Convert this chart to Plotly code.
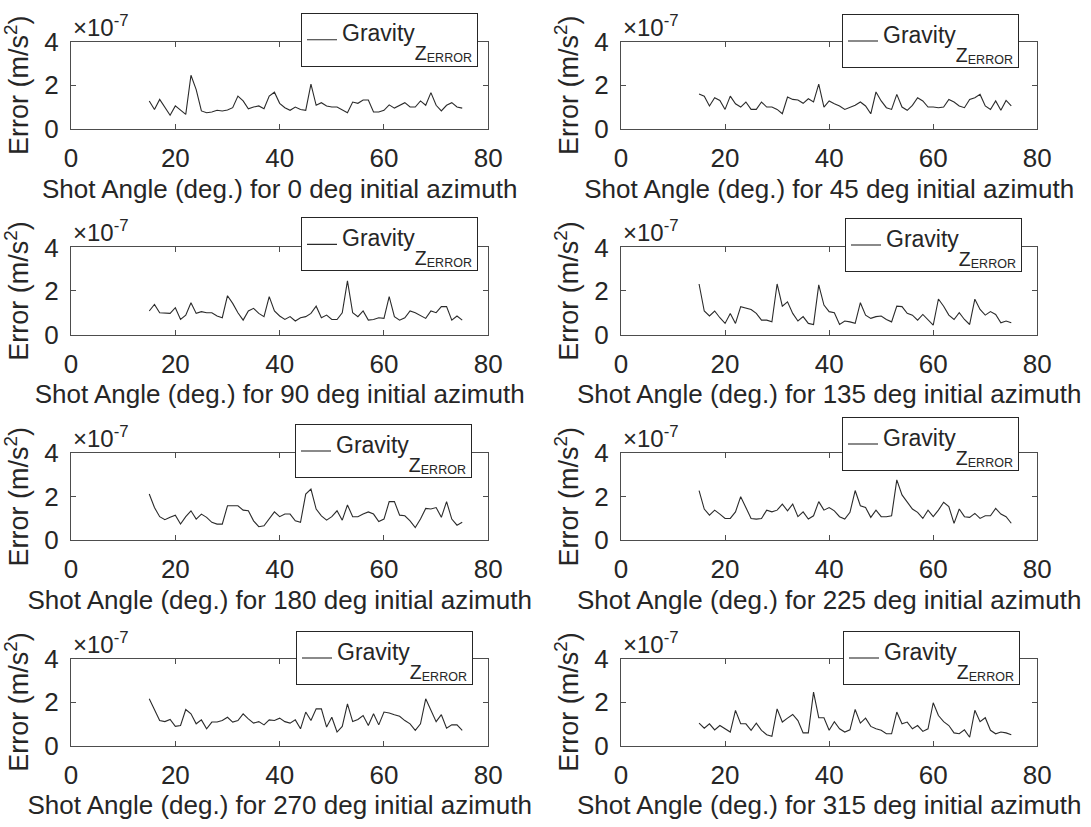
import plotly.graph_objects as go

# ---------------- data (error values in units of 1e-7 m/s^2) ----------------
shot_angle = [15, 16, 17, 18, 19, 20, 21, 22, 23, 24, 25, 26, 27, 28, 29, 30,
              31, 32, 33, 34, 35, 36, 37, 38, 39, 40, 41, 42, 43, 44, 45, 46,
              47, 48, 49, 50, 51, 52, 53, 54, 55, 56, 57, 58, 59, 60, 61, 62,
              63, 64, 65, 66, 67, 68, 69, 70, 71, 72, 73, 74, 75]

azimuths = [0, 45, 90, 135, 180, 225, 270, 315]

az0 = [1.28, 0.89, 1.35, 1.0, 0.62, 1.05, 0.85, 0.66, 2.46, 1.8,
       0.82, 0.74, 0.77, 0.85, 0.82, 0.86, 0.97, 1.5, 1.28, 0.92,
       1.0, 1.05, 0.92, 1.5, 1.68, 1.17, 0.97, 0.85, 1.0, 0.89,
       0.85, 2.05, 1.08, 1.2, 1.05, 1.0, 1.0, 0.86, 0.74, 1.23,
       1.17, 1.32, 1.32, 0.77, 0.77, 0.85, 1.1, 0.95, 1.08, 1.2,
       1.0, 1.0, 1.28, 1.08, 1.66, 1.08, 0.82, 1.08, 1.2, 1.0,
       0.95]
az45 = [1.6, 1.5, 1.05, 1.43, 1.3, 0.89, 1.5, 1.15, 1.0, 1.23,
        0.89, 0.89, 1.23, 1.0, 1.0, 0.89, 0.69, 1.46, 1.35, 1.32,
        1.17, 1.38, 1.23, 2.05, 1.0, 1.28, 1.15, 1.05, 0.89, 0.97,
        1.08, 1.23, 1.05, 0.69, 1.69, 1.28, 0.97, 0.89, 1.58, 1.0,
        0.85, 1.08, 1.43, 1.28, 1.0, 1.0, 0.97, 1.0, 1.35, 1.23,
        1.05, 0.97, 1.35, 1.43, 1.58, 1.05, 0.89, 1.28, 0.85, 1.3,
        1.05]
az90 = [1.08, 1.38, 1.0, 1.0, 0.97, 1.23, 0.69, 0.89, 1.46, 0.97,
        1.05, 1.0, 1.0, 0.85, 0.77, 1.78, 1.43, 1.0, 0.66, 1.08,
        1.2, 0.97, 0.82, 1.74, 1.08, 0.85, 0.69, 0.82, 0.62, 0.77,
        0.82, 0.97, 1.3, 0.77, 0.89, 0.69, 0.69, 1.0, 2.46, 1.0,
        0.82, 1.08, 0.66, 0.69, 0.77, 0.74, 1.74, 0.82, 0.66, 0.77,
        1.08, 1.0, 0.85, 0.74, 1.08, 1.0, 1.28, 1.28, 0.66, 0.85,
        0.66]
az135 = [2.32, 1.08, 0.85, 1.08, 0.77, 0.51, 0.97, 0.51, 1.28, 1.23,
         1.15, 0.97, 0.66, 0.66, 0.58, 2.32, 1.3, 1.5, 0.97, 0.62,
         0.82, 0.51, 0.46, 2.28, 1.35, 1.05, 1.0, 0.46, 0.62, 0.58,
         0.51, 1.46, 0.89, 0.74, 0.82, 0.85, 0.69, 0.58, 1.3, 1.28,
         0.97, 0.89, 0.66, 0.92, 0.66, 0.43, 1.63, 1.3, 0.89, 0.69,
         1.0, 0.69, 0.46, 1.62, 1.15, 0.89, 1.05, 0.92, 0.54, 0.62,
         0.54]
az180 = [2.12, 1.5, 1.08, 0.94, 1.05, 1.15, 0.74, 1.08, 1.35, 0.97,
         1.2, 1.05, 0.82, 0.74, 0.74, 1.58, 1.58, 1.58, 1.38, 1.35,
         0.89, 0.62, 0.66, 1.0, 1.3, 1.08, 1.2, 1.2, 0.89, 0.82,
         2.12, 2.35, 1.43, 1.12, 0.92, 1.08, 1.35, 0.92, 1.62, 1.08,
         1.08, 1.2, 1.3, 1.2, 0.86, 0.97, 1.77, 1.77, 1.15, 1.12,
         0.89, 0.58, 0.97, 1.46, 1.43, 1.5, 1.05, 1.77, 0.97, 0.69,
         0.82]
az225 = [2.28, 1.43, 1.15, 1.38, 1.2, 1.0, 1.0, 1.3, 2.0, 1.5,
         1.0, 0.97, 1.0, 1.38, 1.3, 1.38, 1.66, 1.35, 1.66, 1.08,
         1.3, 0.97, 1.12, 1.77, 1.38, 1.5, 1.35, 1.08, 0.97, 1.28,
         2.28, 1.58, 1.5, 1.05, 1.38, 1.08, 1.08, 1.12, 2.77, 2.08,
         1.74, 1.43, 1.28, 1.0, 1.38, 1.08, 1.38, 1.74, 1.54, 0.77,
         1.43, 1.08, 1.05, 1.23, 1.0, 1.12, 1.12, 1.46, 1.2, 1.08,
         0.78]
az270 = [2.15, 1.65, 1.15, 1.1, 1.2, 0.88, 0.92, 1.66, 1.46, 1.0,
         1.18, 0.77, 1.08, 1.08, 1.15, 1.3, 1.08, 1.15, 1.46, 1.23,
         1.03, 1.1, 0.95, 1.18, 1.15, 1.26, 1.1, 1.03, 1.18, 0.77,
         1.54, 1.15, 1.69, 1.69, 0.85, 1.3, 0.62, 0.88, 1.92, 1.1,
         1.2, 1.38, 0.92, 1.46, 0.95, 1.54, 1.5, 1.42, 1.35, 1.15,
         1.0, 0.7, 1.0, 2.15, 1.65, 1.1, 1.42, 0.8, 0.95, 0.95,
         0.7]
az315 = [1.03, 0.8, 1.0, 0.72, 0.92, 0.77, 0.62, 1.62, 1.0, 1.0,
         0.7, 1.03, 0.7, 0.5, 0.42, 1.69, 1.08, 1.26, 1.43, 1.15,
         0.58, 0.58, 2.46, 1.28, 1.28, 0.7, 1.1, 0.77, 0.62, 0.72,
         1.66, 1.03, 1.26, 0.88, 0.77, 0.7, 0.54, 0.54, 1.54, 1.0,
         1.08, 0.77, 0.92, 0.65, 0.77, 1.97, 1.38, 1.1, 0.92, 0.58,
         0.54, 0.72, 0.38, 1.62, 1.1, 1.28, 0.7, 0.54, 0.62, 0.58,
         0.5]

series = [az0, az45, az90, az135, az180, az225, az270, az315]

x_tick_vals = [0, 20, 40, 60, 80]
y_tick_vals = [0, 2, 4]
y_tick_text = ["0", "2", "4"]
legend_main, legend_sub, legend_subsub = "Gravity", "Z", "ERROR"
y_title = "Error (m/s<sup>2</sup>)"
exponent_label = "×10<sup>-7</sup>"
scale = 1e-7

# ---------------- layout geometry (pixels) ----------------
W, H = 1091, 827
col_px = [(71, 488.3), (621, 1037.3)]
row_px = [(41.7, 128.8), (247.4, 334.5), (453.1, 540.2), (658.7, 745.5)]
legend_px = [(301, 12.7), (842, 14), (301, 217.4), (845, 218),
             (295, 424), (842, 417), (296, 631), (843, 631)]

FONT = "Liberation Sans, Arial, Helvetica, sans-serif"
TXT = "#262626"
AXC = "#4d4d4d"

legend_label = (
    f'<span style="font-size:23px;baseline-shift:10px">{legend_main}</span>'
    f'<span style="font-size:19.5px;baseline-shift:-9px">{legend_sub}</span>'
    f'<span style="font-size:12.5px;baseline-shift:-11px">{legend_subsub}</span>'
)

fig = go.Figure()
layout = dict(
    template="none",
    width=W, height=H, margin=dict(l=0, r=0, t=0, b=0, autoexpand=False),
    paper_bgcolor="white", plot_bgcolor="white",
    font=dict(family=FONT, color=TXT, size=26),
    annotations=[],
)

for i, (az, vals) in enumerate(zip(azimuths, series)):
    r, c = divmod(i, 2)
    sfx = "" if i == 0 else str(i + 1)
    x0, x1 = col_px[c]
    top, bot = row_px[r]
    fig.add_trace(go.Scatter(
        x=shot_angle, y=[v * scale for v in vals], mode="lines",
        line=dict(color="#2b2b2b", width=1.1),
        name=legend_label, showlegend=True,
        xaxis="x" + sfx, yaxis="y" + sfx, legend="legend" + sfx,
    ))
    layout["xaxis" + sfx] = dict(
        domain=[x0 / W, x1 / W], anchor="y" + sfx, range=[0, 80],
        automargin=False,
        tickmode="array", tickvals=x_tick_vals,
        ticks="inside", ticklen=5, tickcolor=AXC, tickwidth=1,
        showline=True, linecolor=AXC, linewidth=1, mirror="ticks",
        showgrid=False, zeroline=False,
        tickfont=dict(size=26, color=TXT), ticklabelstandoff=6,
        title=dict(text=f"Shot Angle (deg.) for {az} deg initial azimuth",
                   font=dict(size=26, color=TXT), standoff=7),
    )
    layout["yaxis" + sfx] = dict(
        domain=[1 - bot / H, 1 - top / H], anchor="x" + sfx,
        range=[0, 4 * scale], automargin=False,
        tickmode="array", tickvals=[v * scale for v in y_tick_vals],
        ticktext=y_tick_text,
        ticks="inside", ticklen=5, tickcolor=AXC, tickwidth=1,
        showline=True, linecolor=AXC, linewidth=1, mirror="ticks",
        showgrid=False, zeroline=False,
        tickfont=dict(size=26, color=TXT), ticklabelstandoff=6,
        title=dict(text=y_title, font=dict(size=27, color=TXT), standoff=7),
    )
    lx, ly = legend_px[i]
    layout["legend" + sfx] = dict(
        x=lx / W, y=1 - ly / H, xanchor="left", yanchor="top",
        xref="paper", yref="paper",
        bgcolor="white", bordercolor=TXT, borderwidth=1,
        font=dict(size=30, color=TXT), itemwidth=30,
    )
    layout["annotations"].append(dict(
        text=exponent_label, xref="paper", yref="paper",
        x=x0 / W, y=1 - top / H, xanchor="left", yanchor="bottom",
        showarrow=False, font=dict(size=24, color=TXT), xshift=0, yshift=-1,
    ))

fig.update_layout(**layout)
fig.write_html("out.html")
